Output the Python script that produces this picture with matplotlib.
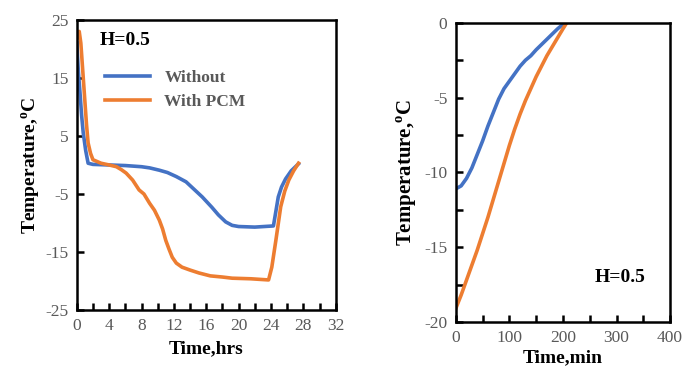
import matplotlib
matplotlib.use('Agg')
import matplotlib.pyplot as plt
from matplotlib.ticker import MultipleLocator

plt.rcParams['axes.unicode_minus'] = False
plt.rcParams['mathtext.fontset'] = 'custom'
plt.rcParams['mathtext.rm'] = 'Liberation Serif'
plt.rcParams['mathtext.bf'] = 'Liberation Serif:bold'

# Left chart: cooling curves over the day (hrs)
t_without = [0, 0.2, 0.4, 0.6, 0.8, 1.1, 1.4, 2, 4, 6, 8, 9, 10.2, 11.2, 12.3, 13.5, 14.5,
             15.5, 16.7, 17.5, 18.4, 19.2, 20, 22, 24.3, 24.6, 24.9, 25.3, 25.8, 26.5, 27.4]
v_without = [21, 16, 12.4, 8.5, 5.5, 2.5, 0.3, 0.1, 0, -0.1, -0.3, -0.5, -0.9, -1.3, -2.0,
             -2.9, -4.2, -5.5, -7.3, -8.6, -9.8, -10.4, -10.6, -10.7, -10.5, -8.0, -5.5,
             -3.8, -2.4, -1.0, 0.2]
t_pcm = [0.1, 0.3, 0.5, 0.7, 1.0, 1.2, 1.4, 1.7, 2.0, 3, 4, 4.9, 5.5, 6.1, 6.9, 7.7, 8.3,
         9.0, 9.6, 10.2, 10.6, 11.0, 11.4, 11.8, 12.3, 13.0, 14, 15.1, 16.5, 18, 19.2, 21.5,
         23.7, 24.1, 24.6, 25.2, 25.7, 26.2, 26.8, 27.4]
v_pcm = [22, 23, 21, 17, 11, 7, 3.8, 2, 0.9, 0.3, 0, -0.3, -0.8, -1.4, -2.6, -4.3, -5.0,
         -6.6, -7.8, -9.5, -11.0, -13.0, -14.5, -15.9, -16.9, -17.6, -18.1, -18.6, -19.1,
         -19.3, -19.5, -19.6, -19.8, -17.6, -13.0, -7.2, -4.5, -2.6, -1.0, 0.3]
left_yticks = [-25, -15, -5, 5, 15, 25]

# Right chart: thawing (min)
m_without = [0, 10, 20, 30, 40, 50, 60, 70, 80, 90, 100, 110, 120, 130, 140, 150, 160,
             170, 180, 190, 200, 205]
w_without = [-11.1, -10.9, -10.4, -9.7, -8.8, -7.9, -6.9, -6.0, -5.1, -4.4, -3.9, -3.4,
             -2.9, -2.5, -2.2, -1.8, -1.45, -1.1, -0.75, -0.4, -0.1, 0.0]
m_pcm = [0, 10, 20, 30, 40, 50, 60, 70, 80, 90, 100, 110, 120, 130, 140, 150, 160, 170,
         180, 190, 200, 207]
w_pcm = [-19.1, -18.2, -17.2, -16.2, -15.2, -14.1, -13.0, -11.8, -10.6, -9.4, -8.2, -7.1,
         -6.1, -5.2, -4.4, -3.6, -2.9, -2.2, -1.6, -1.0, -0.4, 0.0]

blue = '#4472C4'
orange = '#ED7D31'
gray = '#595959'
serif = 'Liberation Serif'
ylab = r'Temperature,$^{\mathbf{o}}$C'

fig = plt.figure(figsize=(6.98, 3.81), dpi=100)

# Left subplot
ax1 = fig.add_axes([0.110, 0.186, 0.371, 0.762])
ax1.plot(t_without, v_without, color=blue, lw=2.6, label='Without')
ax1.plot(t_pcm, v_pcm, color=orange, lw=2.6, label='With PCM')
ax1.set_xlim(0, 32)
ax1.set_ylim(-25, 25)
ax1.xaxis.set_major_locator(MultipleLocator(4))
ax1.xaxis.set_minor_locator(MultipleLocator(2))
ax1.set_yticks(left_yticks)
ax1.set_xlabel('Time,hrs', fontfamily=serif, fontweight='bold', fontsize=14)
ax1.set_ylabel(ylab, fontfamily=serif, fontweight='bold', fontsize=14, labelpad=2)
ax1.text(0.09, 0.93, 'H=0.5', transform=ax1.transAxes, fontfamily=serif,
         fontweight='bold', fontsize=14, va='center')
leg = ax1.legend(loc='upper left', bbox_to_anchor=(0.05, 0.88), frameon=False,
                 handlelength=2.6, labelspacing=0.45,
                 prop={'family': serif, 'weight': 'bold', 'size': 12.5})
for txt in leg.get_texts():
    txt.set_color(gray)

# Right subplot
ax2 = fig.add_axes([0.653, 0.155, 0.307, 0.785])
ax2.plot(m_without, w_without, color=blue, lw=2.6)
ax2.plot(m_pcm, w_pcm, color=orange, lw=2.6)
ax2.set_xlim(0, 400)
ax2.set_ylim(-20, 0)
ax2.xaxis.set_major_locator(MultipleLocator(100))
ax2.xaxis.set_minor_locator(MultipleLocator(50))
ax2.yaxis.set_major_locator(MultipleLocator(5))
ax2.yaxis.set_minor_locator(MultipleLocator(2.5))
ax2.set_xlabel('Time,min', fontfamily=serif, fontweight='bold', fontsize=14, labelpad=2)
ax2.set_ylabel(ylab, fontfamily=serif, fontweight='bold', fontsize=15, labelpad=4)
ax2.text(260, -17.0, 'H=0.5', fontfamily=serif, fontweight='bold', fontsize=14,
         va='center')

for ax in (ax1, ax2):
    for s in ax.spines.values():
        s.set_linewidth(1.8)
        s.set_color('black')
    ax.tick_params(which='both', direction='in', length=5, width=1.8, color='black',
                   labelcolor=gray, labelsize=12.5, pad=6)
    for lab in ax.get_xticklabels() + ax.get_yticklabels():
        lab.set_fontfamily(serif)

fig.savefig('out.png', dpi=100)
